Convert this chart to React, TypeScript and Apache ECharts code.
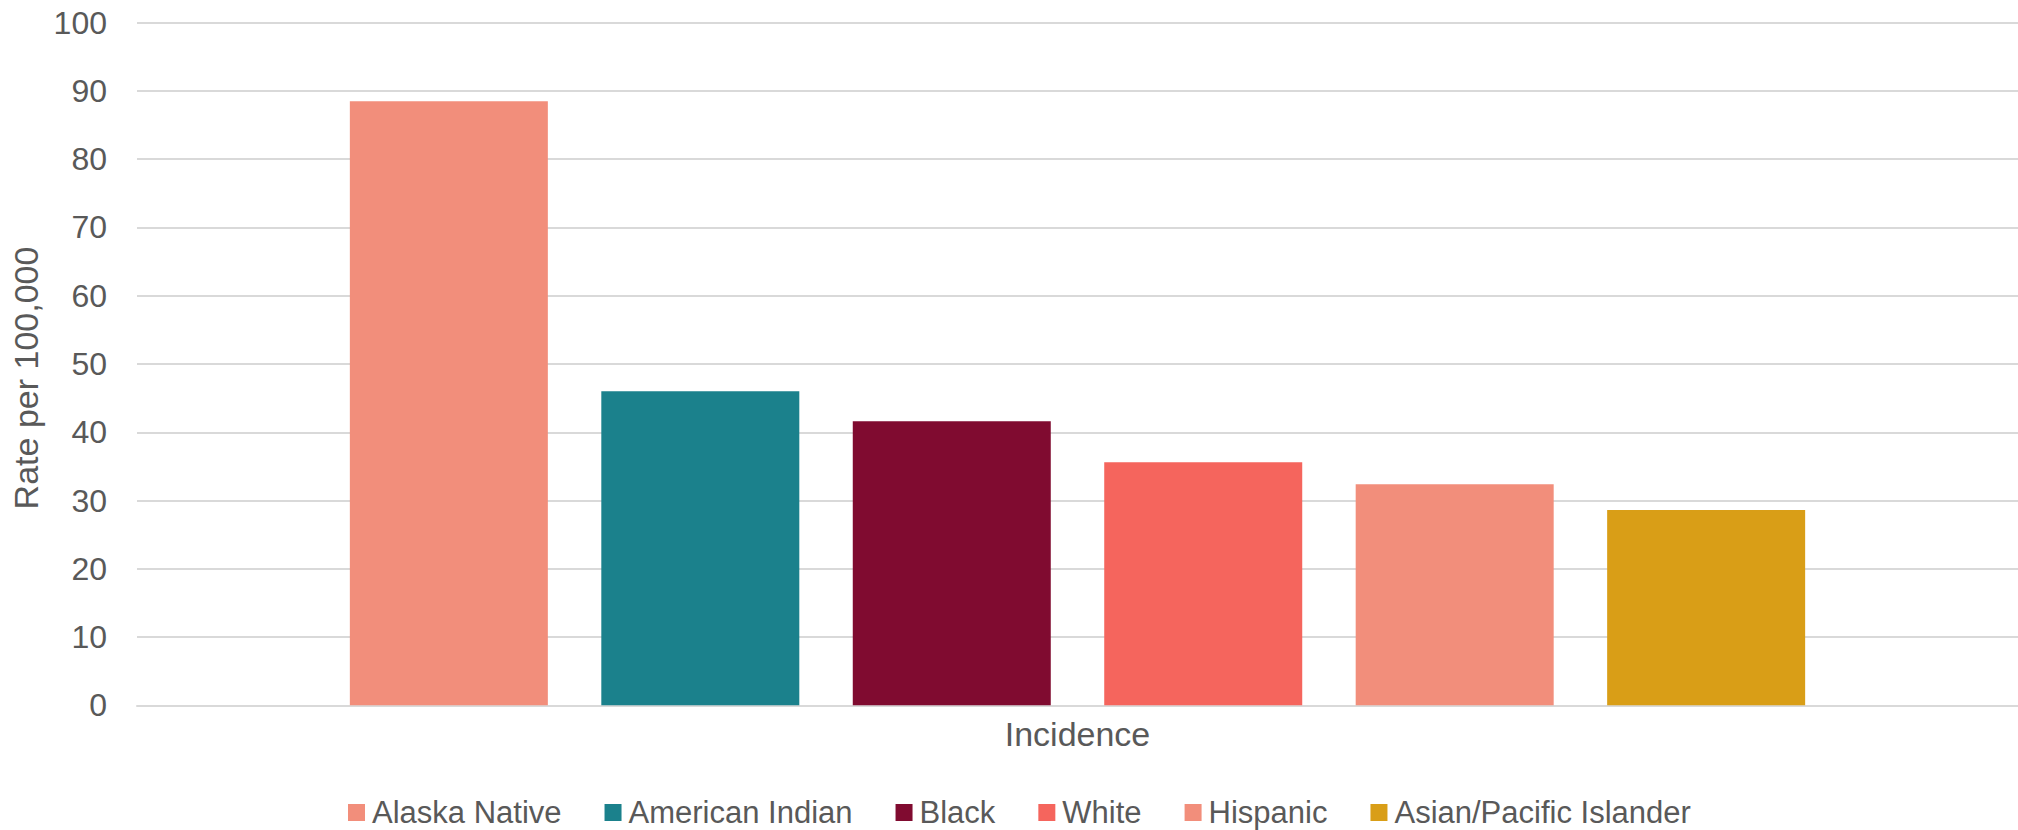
import React, { useEffect, useRef } from "react";
import * as echarts from "echarts";

const categories = ["Incidence"];
const seriesNames = [
  "Alaska Native",
  "American Indian",
  "Black",
  "White",
  "Hispanic",
  "Asian/Pacific Islander",
];
const seriesValues = [88.5, 46.0, 41.6, 35.6, 32.4, 28.6];
const seriesColors = ["#F28E7B", "#1B818C", "#800B30", "#F5655D", "#F28E7B", "#D99E17"];
const yTicks = { min: 0, max: 100, interval: 10 };

export default function App() {
  const ref = useRef<HTMLDivElement>(null);
  useEffect(() => {
    if (!ref.current) return;
    const chart = echarts.init(ref.current, null, { renderer: "svg" });
    const font = "'Liberation Sans', Arial, sans-serif";
    chart.setOption({
      animation: false,
      backgroundColor: "#ffffff",
      textStyle: { fontFamily: font },
      grid: { left: 137, right: 0, top: 22.7, bottom: 124.7, containLabel: false },
      legend: {
        data: seriesNames,
        left: 343,
        top: 792,
        icon: "rect",
        itemWidth: 17,
        itemHeight: 17,
        itemGap: 43,
        textStyle: { fontSize: 31, color: "#595959", fontFamily: font, padding: [0, 0, 0, 2] },
      },
      xAxis: {
        type: "category",
        data: categories,
        axisLine: { lineStyle: { color: "#d9d9d9", width: 2 } },
        axisTick: { show: false },
        axisLabel: { fontSize: 34, color: "#595959", margin: 12, fontFamily: font },
      },
      yAxis: {
        type: "value",
        min: yTicks.min,
        max: yTicks.max,
        interval: yTicks.interval,
        name: "Rate per 100,000",
        nameLocation: "middle",
        nameGap: 94,
        nameRotate: 90,
        nameTextStyle: { fontSize: 34, color: "#595959", fontFamily: font, padding: [0, 28, 0, 0] },
        axisLine: { show: false },
        axisTick: { show: false },
        axisLabel: { fontSize: 32, color: "#595959", margin: 30, fontFamily: font },
        splitLine: { lineStyle: { color: "#d9d9d9", width: 2 } },
      },
      series: seriesNames.map((name, i) => ({
        name,
        type: "bar",
        data: [seriesValues[i]],
        barWidth: 198,
        barGap: "27%",
        itemStyle: { color: seriesColors[i] },
      })),
    });
    return () => chart.dispose();
  }, []);
  return (
    <div
      ref={ref}
      style={{ position: "fixed", left: 0, top: 0, width: 2018, height: 830 }}
    />
  );
}
